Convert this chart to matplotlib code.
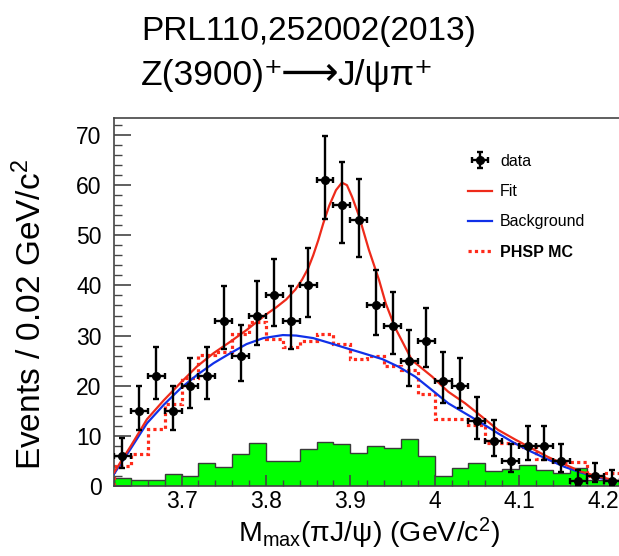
import numpy as np
import matplotlib
matplotlib.use("Agg")
import matplotlib.pyplot as plt
from matplotlib.lines import Line2D
from matplotlib.ticker import MultipleLocator

plt.rcParams['font.family'] = ['Liberation Sans', 'DejaVu Sans']
plt.rcParams['mathtext.fontset'] = 'custom'
plt.rcParams['mathtext.rm'] = 'Liberation Sans'
plt.rcParams['mathtext.it'] = 'Liberation Sans:italic'
plt.rcParams['mathtext.bf'] = 'Liberation Sans:bold'

# binning: 30 bins of 0.02 GeV starting at 3.62
edges = np.round(3.62 + 0.02 * np.arange(31), 2)
centers = (edges[:-1] + edges[1:]) / 2

# data counts per bin
data_counts = np.array([6, 15, 22, 15, 20, 22, 33, 26, 34, 38,
                        33, 40, 61, 56, 53, 36, 32, 25, 29, 21,
                        20, 13, 9, 5, 8, 8, 5, 1, 2, 1])

# green filled histogram
green_hist = [1.5, 1.1, 1.1, 2.3, 2.0, 4.6, 3.7, 6.4, 8.5, 5.0,
              5.0, 7.3, 8.8, 8.3, 6.6, 8.0, 7.6, 9.3, 6.0, 2.0,
              3.5, 4.5, 2.9, 3.4, 4.2, 3.2, 2.5, 3.6, 1.2, 1.2]

# PHSP MC (red dotted)
phsp_mc = [3.9, 6.3, 11.4, 16.4, 21.5, 26.2, 26.7, 30.4, 32.8, 29.4,
           27.8, 29.0, 30.4, 28.3, 25.3, 25.9, 23.9, 23.1, 18.4, 13.3,
           13.3, 12.2, 8.6, 8.6, 7.7, 5.3, 4.7, 4.7, 1.9, 2.5]

# fit curve
fit_x = [3.620, 3.640, 3.659, 3.679, 3.699, 3.718, 3.738, 3.758, 3.777, 3.792,
         3.800, 3.812, 3.824, 3.835, 3.843, 3.850, 3.856, 3.862, 3.868, 3.875,
         3.883, 3.890, 3.896, 3.902, 3.910, 3.922, 3.934, 3.942, 3.953, 3.973,
         3.997, 4.016, 4.036, 4.056, 4.075, 4.095, 4.115, 4.134, 4.154, 4.173,
         4.193, 4.215]
fit_y = [2.7, 8.0, 13.3, 17.1, 20.6, 23.8, 26.5, 28.8, 31.1, 33.1,
         34.2, 35.6, 37.2, 39.2, 41.2, 43.4, 46.0, 49.0, 52.4, 55.9,
         59.0, 60.5, 60.0, 57.7, 54.0, 47.1, 41.1, 36.4, 31.6, 25.1,
         21.8, 18.8, 16.5, 13.8, 11.2, 9.3, 7.5, 5.8, 4.3, 2.9,
         1.9, 1.1]

# background curve
bkg_x = [3.620, 3.640, 3.659, 3.679, 3.699, 3.718, 3.738, 3.758, 3.777, 3.797,
         3.820, 3.836, 3.856, 3.876, 3.895, 3.913, 3.938, 3.957, 3.977, 3.997,
         4.016, 4.036, 4.056, 4.075, 4.095, 4.115, 4.134, 4.154, 4.173, 4.193,
         4.215]
bkg_y = [2.4, 7.5, 12.5, 16.2, 19.5, 22.1, 24.5, 26.5, 28.3, 29.5,
         30.1, 30.0, 29.5, 28.5, 27.5, 26.6, 25.3, 23.8, 21.8, 19.1,
         16.5, 14.5, 12.5, 10.5, 8.5, 6.8, 5.3, 3.8, 2.7, 1.7,
         0.9]

# Poisson (Garwood-like) error bars
n = data_counts.astype(float)
lo = n * (1 - 1 / (9 * n) - 1 / (3 * np.sqrt(n))) ** 3
hi = (n + 1) * (1 - 1 / (9 * (n + 1)) + 1 / (3 * np.sqrt(n + 1))) ** 3
yerr = [n - lo, hi - n]

W, H = 619, 556
fig = plt.figure(figsize=(W / 100, H / 100), dpi=100)

# axes extends past the right edge (the reference is cropped there)
x0, x1 = 3.62, 4.24
px_per_unit = 844
left_px, bottom_px, top_px = 114, 486, 118
ax = fig.add_axes([left_px / W, (H - bottom_px) / H,
                   (x1 - x0) * px_per_unit / W, (bottom_px - top_px) / H])

ax.stairs(green_hist, edges, fill=True, facecolor='#00ff00',
          edgecolor='#3a3a3a', linewidth=1.0, zorder=1)
ax.stairs(phsp_mc, edges, color='#ff2a1a', linewidth=2.3,
          linestyle=(0, (1, 1)), zorder=2)
ax.plot(bkg_x, bkg_y, color='#1030e8', lw=1.6, zorder=3)
ax.plot(fit_x, fit_y, color='#ee2a1a', lw=1.6, zorder=4)
eb = ax.errorbar(centers, data_counts, yerr=yerr, xerr=0.01, fmt='o',
                 color='black', ms=5.5, elinewidth=1.7, capsize=2,
                 capthick=1.7, zorder=5)

ax.set_xlim(x0, x1)
ax.set_ylim(0, (bottom_px - top_px) / 5.014)

ax.xaxis.set_minor_locator(MultipleLocator(0.02))
ax.yaxis.set_major_locator(MultipleLocator(10))
ax.yaxis.set_minor_locator(MultipleLocator(2))
ax.set_xticks([3.7, 3.8, 3.9, 4.0, 4.1, 4.2])
ax.set_xticklabels(['3.7', '3.8', '3.9', '4', '4.1', '4.2'])

for s in ax.spines.values():
    s.set_color('#444444')
    s.set_linewidth(1.2)
ax.spines['right'].set_visible(False)

ax.tick_params(axis='both', which='both', direction='in', colors='#444444',
               labelcolor='black', labelsize=16.5, top=False, right=False)
ax.tick_params(axis='y', which='major', length=12, width=1.2, pad=9)
ax.tick_params(axis='y', which='minor', length=6, width=1.0)
ax.tick_params(axis='x', which='major', length=8, width=1.2, pad=3)
ax.tick_params(axis='x', which='minor', length=4, width=1.0)

fig.text(31 / W, 1 - 315 / H, 'Events / 0.02 GeV/c$^2$', rotation=90,
         ha='center', va='center', fontsize=24)
fig.text(369 / W, 1 - 533 / H, 'M$_{\\rm max}$(πJ/ψ) (GeV/c$^2$)',
         ha='center', va='center', fontsize=20.5)

fig.text(309 / W, 1 - 40 / H, 'PRL110,252002(2013)', ha='center',
         va='baseline', fontsize=24)
# second title line in three pieces so the arrow can be sized on its own
fig.text(284 / W, 1 - 85 / H, 'Z(3900)⁺', ha='right',
         va='baseline', fontsize=25.5)
fig.text(310 / W, 1 - 85 / H, '⟶', ha='center',
         va='baseline', fontsize=29)
fig.text(337 / W, 1 - 85 / H, 'J/ψπ⁺', ha='left',
         va='baseline', fontsize=25.5)

handles = [eb,
           Line2D([], [], color='#ee2a1a', lw=1.6),
           Line2D([], [], color='#1030e8', lw=1.6),
           Line2D([], [], color='#ff2a1a', lw=2.3, linestyle=(0, (1, 1)))]
labels = ['data', 'Fit', 'Background', 'PHSP MC']
leg = fig.legend(handles, labels, loc='upper left',
                 bbox_to_anchor=(460 / W, 1 - 146 / H),
                 bbox_transform=fig.transFigure, frameon=False,
                 fontsize=11.5, borderpad=0, handlelength=1.5,
                 handletextpad=0.5, labelspacing=0.95)
leg.get_texts()[3].set_fontweight('bold')

fig.savefig('out.png', dpi=100)
